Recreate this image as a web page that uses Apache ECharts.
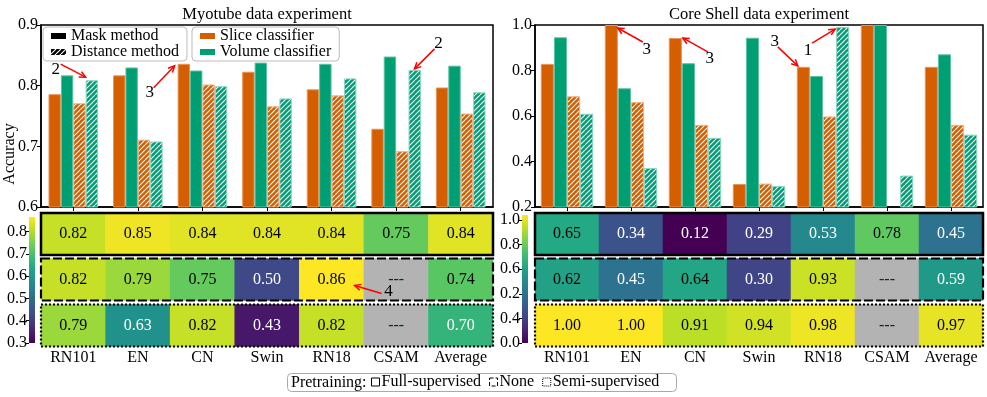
<!DOCTYPE html>
<html><head><meta charset="utf-8">
<script src="https://cdn.jsdelivr.net/npm/echarts@6/dist/echarts.min.js"></script>
<style>html,body{margin:0;padding:0;background:#fff}#c{width:987px;height:397px}</style>
</head><body><div id="c"></div>
<script>
// ---------------- DATA ----------------
const categories = ['RN101','EN','CN','Swin','RN18','CSAM','Average'];
// Myotube data experiment (bar chart)
const myoSliceMask   = [0.786,0.817,0.836,0.823,0.794,0.729,0.797];
const myoVolumeMask  = [0.817,0.830,0.825,0.838,0.836,0.848,0.833];
const myoSliceDist   = [0.771,0.711,0.802,0.766,0.784,0.692,0.754];
const myoVolumeDist  = [0.809,0.708,0.799,0.779,0.812,0.826,0.789];
// Core Shell data experiment (bar chart)
const coreSliceMask  = [0.829,1.000,0.943,0.301,0.816,1.000,0.816];
const coreVolumeMask = [0.946,0.722,0.832,0.944,0.776,1.000,0.871];
const coreSliceDist  = [0.687,0.661,0.561,0.303,0.598,null,0.561];
const coreVolumeDist = [0.610,0.371,0.504,0.292,0.991,0.338,0.518];
// Heatmap rows (pretraining)
const myoHeatFull  = [0.82,0.85,0.84,0.84,0.84,0.75,0.84];
const myoHeatNone  = [0.82,0.79,0.75,0.50,0.86,null,0.74];
const myoHeatSemi  = [0.79,0.63,0.82,0.43,0.82,null,0.70];
const coreHeatFull = [0.65,0.34,0.12,0.29,0.53,0.78,0.45];
const coreHeatNone = [0.62,0.45,0.64,0.30,0.93,null,0.59];
const coreHeatSemi = [1.00,1.00,0.91,0.94,0.98,null,0.97];
// colour ranges of the two heatmaps
const myoColorRange  = [0.40, 0.86];
const coreColorRange = [0.12, 1.00];
// Tick labels
const myoCbTicks   = [0.3,0.4,0.5,0.6,0.7,0.8];
const myoCbLabels  = ['0.3','0.4','0.5','0.6','0.7','0.8'];
const coreCbTicks  = [0.0,0.2,0.4,0.6,0.8,1.0];
const coreCbLabels = ['0.0','0.4','0.2','0.6','0.8','1.0'];
const pretrainings = ['Full-supervised','None','Semi-supervised'];

// ---------------- STYLE / LAYOUT ----------------
const FONT = '"Liberation Serif","Times New Roman",serif';
const ORANGE = '#d55e00', GREEN = '#009e73';
const LX = 41, LW = 452, RX = 535, RW = 448;
const BAR_TOP = 25, BAR_H = 182;
const ROW_TOP = [213, 258.5, 304.5], ROW_H = 42;
const BW_L = 12.4, BW_R = 13.1;

const VIR = ['#440154','#482475','#414487','#355f8d','#2a788e','#21918c','#22a884','#44bf70','#7ad151','#bddf26','#fde725'];
function hex2rgb(h){return [1,3,5].map(i=>parseInt(h.substr(i,2),16));}
function viridis(t){
  t = Math.max(0, Math.min(1, t));
  const p = t*10, i = Math.min(9, Math.floor(p)), f = p - i;
  const a = hex2rgb(VIR[i]), b = hex2rgb(VIR[i+1]);
  return 'rgb(' + a.map((x,k)=>Math.round(x+(b[k]-x)*f)).join(',') + ')';
}
function hatch(bg, fg){
  const s = 5, c = document.createElement('canvas');
  c.width = s; c.height = s;
  const ctx = c.getContext('2d');
  ctx.fillStyle = bg; ctx.fillRect(0,0,s,s);
  ctx.strokeStyle = fg; ctx.lineWidth = 1.1;
  [-s,0,s].forEach(ox=>{
    ctx.beginPath(); ctx.moveTo(ox, s); ctx.lineTo(ox+s, 0); ctx.stroke();
  });
  return {image: c, repeat: 'repeat'};
}
const hatchOrange = hatch(ORANGE, '#ffffff');
const hatchGreen = hatch(GREEN, '#ffffff');
const hatchBlack = hatch('#000000', '#ffffff');

function heatData(vals, range, whiteBelow){
  const lo = range[0], hi = range[1];
  return vals.map((v,i)=> v==null
    ? {value:[i,0,0], itemStyle:{color:'#b3b3b3'}, label:{formatter:'---', color:'#222'}}
    : {value:[i,0,v], itemStyle:{color:viridis((v-lo)/(hi-lo))}, label:{color: v < whiteBelow ? '#ffffff' : '#000000'}});
}

const grids = [], xAxes = [], yAxes = [], series = [];
function addGrid(g){ g.outerBoundsMode = 'none'; grids.push(g); return grids.length-1; }

const barAxisCommon = (gi) => ({
  gridIndex: gi, type:'category', data: categories,
  axisLabel:{show:false},
  axisTick:{show:true, alignWithLabel:true, length:4, lineStyle:{color:'#000', width:1}},
  axisLine:{lineStyle:{color:'#000', width:1.5}}
});
const yBarCommon = (gi, min, max, interval) => ({
  gridIndex: gi, type:'value', min, max, interval,
  axisLine:{show:true, lineStyle:{color:'#000', width:1.5}},
  axisTick:{show:true, length:4, lineStyle:{color:'#000'}},
  splitLine:{show:false},
  axisLabel:{color:'#000', fontFamily:FONT, fontSize:16, margin:3, formatter:v=>v.toFixed(1)}
});
const gBarL = addGrid({left:LX, top:BAR_TOP, width:LW, height:BAR_H, show:true, borderColor:'#000', borderWidth:1.5});
xAxes.push(barAxisCommon(gBarL)); yAxes.push(yBarCommon(gBarL, 0.6, 0.9, 0.1));
const gBarR = addGrid({left:RX, top:BAR_TOP, width:RW, height:BAR_H, show:true, borderColor:'#000', borderWidth:1.5});
xAxes.push(barAxisCommon(gBarR)); yAxes.push(yBarCommon(gBarR, 0.2, 1.0, 0.2));

function bar(name, data, gi, color, border, bw){
  return {type:'bar', name, data, xAxisIndex:gi, yAxisIndex:gi, barWidth:bw, barGap:'0%',
    itemStyle:{color, borderColor:border, borderWidth:1}, emphasis:{disabled:true}, silent:true};
}
series.push(bar('Slice classifier', myoSliceMask, gBarL, ORANGE, '#e9935a', BW_L));
series.push(bar('Volume classifier', myoVolumeMask, gBarL, GREEN, '#5cc2a5', BW_L));
series.push(bar('Slice classifier (distance)', myoSliceDist, gBarL, hatchOrange, '#f2b188', BW_L));
series.push(bar('Volume classifier (distance)', myoVolumeDist, gBarL, hatchGreen, '#8ad6c0', BW_L));
series.push(bar('Slice classifier', coreSliceMask, gBarR, ORANGE, '#e9935a', BW_R));
series.push(bar('Volume classifier', coreVolumeMask, gBarR, GREEN, '#5cc2a5', BW_R));
series.push(bar('Slice classifier (distance)', coreSliceDist, gBarR, hatchOrange, '#f2b188', BW_R));
series.push(bar('Volume classifier (distance)', coreVolumeDist, gBarR, hatchGreen, '#8ad6c0', BW_R));

const heatGridIdx = {L:[], R:[]};
function addHeat(side, row, vals, range, whiteBelow){
  const x = side==='L' ? LX : RX, w = side==='L' ? LW : RW;
  const gi = addGrid({left:x, top:ROW_TOP[row], width:w, height:ROW_H});
  heatGridIdx[side].push(gi);
  const bottom = row === 2;
  xAxes.push({gridIndex:gi, type:'category', data:categories, show:bottom,
    axisLine:{show:false}, axisTick:{show:false}, splitLine:{show:false},
    axisLabel:{interval:0, hideOverlap:false, color:'#000', fontFamily:FONT, fontSize:16, margin:3}});
  yAxes.push({gridIndex:gi, type:'category', data:[''], show:false});
  series.push({type:'heatmap', name:'heat'+side+row, xAxisIndex:gi, yAxisIndex:gi,
    data: heatData(vals, range, whiteBelow), silent:true, emphasis:{disabled:true},
    label:{show:true, fontFamily:FONT, fontSize:16, formatter:p=>p.value[2].toFixed(2)}});
}
addHeat('L',0,myoHeatFull,myoColorRange,0.72);
addHeat('L',1,myoHeatNone,myoColorRange,0.72);
addHeat('L',2,myoHeatSemi,myoColorRange,0.72);
addHeat('R',0,coreHeatFull,coreColorRange,0.6);
addHeat('R',1,coreHeatNone,coreColorRange,0.6);
addHeat('R',2,coreHeatSemi,coreColorRange,0.6);

const gradStops = VIR.map((c,i)=>({offset:i/10, color:VIR[10-i]}));
function addColorbar(left, top, height, min, max, ticks, labels){
  const gi = addGrid({left, top, width:6, height});
  xAxes.push({gridIndex:gi, type:'category', data:[''], show:false});
  yAxes.push({gridIndex:gi, type:'value', min, max,
    axisLine:{show:false}, splitLine:{show:false},
    axisTick:{show:true, length:3, customValues:ticks, lineStyle:{color:'#000'}},
    axisLabel:{customValues:ticks, color:'#000', fontFamily:FONT, fontSize:16, margin:2,
      formatter:(v)=>{let b=0; ticks.forEach((t,i)=>{if(Math.abs(t-v)<Math.abs(ticks[b]-v)) b=i;}); return labels[b];}}});
  series.push({type:'bar', name:'cb'+gi, xAxisIndex:gi, yAxisIndex:gi, data:[max], barWidth:'100%', silent:true,
    itemStyle:{color:new echarts.graphic.LinearGradient(0,0,0,1,gradStops)}});
}
addColorbar(29, 217, 126, 0.3, 0.865, myoCbTicks, myoCbLabels);
addColorbar(522, 215, 128, 0.0, 1.04, coreCbTicks, coreCbLabels);

['Mask method','Distance method'].concat(pretrainings).forEach(n=>{
  series.push({type:'line', name:n, data:[], xAxisIndex:0, yAxisIndex:0});
});

const legendText = {fontFamily:FONT, fontSize:16, color:'#000', lineHeight:15};
const legendBox = {orient:'vertical', itemGap:0, itemWidth:15, itemHeight:6, padding:[1,8,1,8],
  borderColor:'#bbbbbb', borderWidth:1, borderRadius:4, selectedMode:false, textStyle:legendText};

const option = {
  animation:false,
  backgroundColor:'#ffffff',
  title:[
    {text:'Myotube data experiment', left:LX+LW/2, top:6, textAlign:'center', padding:0,
     textStyle:{fontFamily:FONT, fontSize:16.5, fontWeight:'normal', color:'#000'}},
    {text:'Core Shell data experiment', left:RX+RW/2, top:6, textAlign:'center', padding:0,
     textStyle:{fontFamily:FONT, fontSize:16.5, fontWeight:'normal', color:'#000'}},
    {text:'Pretraining:', left:287, top:373, padding:[1,310,1,4], borderColor:'#aaaaaa', borderWidth:1, borderRadius:4,
     textStyle:{fontFamily:FONT, fontSize:16, fontWeight:'normal', color:'#000', lineHeight:17}}
  ],
  legend:[
    Object.assign({}, legendBox, {left:43, top:27, data:[
      {name:'Mask method', icon:'rect', itemStyle:{color:'#000', borderWidth:0}},
      {name:'Distance method', icon:'rect', itemStyle:{color:hatchBlack, borderWidth:0}}
    ]}),
    Object.assign({}, legendBox, {left:192, top:27, data:[
      {name:'Slice classifier', icon:'rect', itemStyle:{color:ORANGE, borderWidth:0}},
      {name:'Volume classifier', icon:'rect', itemStyle:{color:GREEN, borderWidth:0}}
    ]}),
    {left:371, top:374, orient:'horizontal', itemGap:8, itemWidth:8, itemHeight:8, padding:0, selectedMode:false,
     textStyle:{fontFamily:FONT, fontSize:16, color:'#000', padding:[0,0,0,-3]},
     data: pretrainings.map((n,i)=>({name:n, icon:'rect',
       itemStyle:{color:'rgba(0,0,0,0)', borderColor:'#000', borderWidth:1, borderType:['solid','dashed','dotted'][i]}}))}
  ],
  grid: grids, xAxis: xAxes, yAxis: yAxes, series
};

const chart = echarts.init(document.getElementById('c'), null, {renderer:'canvas'});
chart.setOption(option);

function arrow(tip, tail, textPos, label){
  const ang = Math.atan2(tip[1]-tail[1], tip[0]-tail[0]);
  const L = 7, a = 0.45;
  const p1 = [tip[0]-L*Math.cos(ang-a), tip[1]-L*Math.sin(ang-a)];
  const p2 = [tip[0]-L*Math.cos(ang+a), tip[1]-L*Math.sin(ang+a)];
  return [
    {type:'line', silent:true, z:20, shape:{x1:tail[0], y1:tail[1], x2:tip[0], y2:tip[1]}, style:{stroke:'#ff0000', lineWidth:1.5}},
    {type:'polyline', silent:true, z:20, shape:{points:[p1, tip, p2]}, style:{stroke:'#ff0000', lineWidth:1.5, fill:null}},
    {type:'text', silent:true, z:20, x:textPos[0], y:textPos[1], style:{text:label, fontFamily:FONT, fontSize:17, fill:'#000', align:'center', verticalAlign:'middle'}}
  ];
}
const annots = [
  {g:gBarL, cat:0, k:3, val:myoVolumeDist[0], bw:BW_L, tip:[0,-3], tail:[-25,-16], text:[-30,-11], label:'2'},
  {g:gBarL, cat:2, k:0, val:myoSliceMask[2], bw:BW_L, tip:[-3,2], tail:[-24,24], text:[-28,29], label:'3'},
  {g:gBarL, cat:5, k:3, val:myoVolumeDist[5], bw:BW_L, tip:[6,-1], tail:[26,-21], text:[30,-26], label:'2'},
  {g:gBarR, cat:1, k:0, val:coreSliceMask[1], bw:BW_R, tip:[13,3], tail:[38,17], text:[42,25], label:'3'},
  {g:gBarR, cat:2, k:0, val:coreSliceMask[2], bw:BW_R, tip:[14,0], tail:[39,14], text:[41,21], label:'3'},
  {g:gBarR, cat:4, k:0, val:coreSliceMask[4], bw:BW_R, tip:[1,-1], tail:[-19,-20], text:[-22,-25], label:'3'},
  {g:gBarR, cat:4, k:3, val:coreVolumeDist[4], bw:BW_R, tip:[-1,2], tail:[-24,16], text:[-28,23], label:'1'}
];
const gfx = [];
annots.forEach(a=>{
  const p = chart.convertToPixel({gridIndex:a.g}, [a.cat, a.val]);
  const ax = p[0] + (a.k-2)*a.bw, ay = p[1];
  gfx.push(...arrow([ax+a.tip[0], ay+a.tip[1]], [ax+a.tail[0], ay+a.tail[1]], [ax+a.text[0], ay+a.text[1]], a.label));
});
{
  const p = chart.convertToPixel({gridIndex:heatGridIdx.L[1]}, [4, 0]);
  gfx.push(...arrow([p[0]+23, p[1]+6], [p[0]+50, p[1]+14], [p[0]+57, p[1]+12], '4'));
}
const dashes = [null, [9,3], [2,2]];
['L','R'].forEach(side=>{
  const x = side==='L' ? LX : RX, w = side==='L' ? LW : RW;
  [0,1,2].forEach(r=>{
    gfx.push({type:'rect', silent:true, z:15, shape:{x:x, y:ROW_TOP[r], width:w, height:ROW_H},
      style:{fill:null, stroke:'#000', lineWidth: r===0 ? 2.5 : 2.2, lineDash: dashes[r]}});
  });
});
gfx.push({type:'text', silent:true, x:10, y:154, rotation:Math.PI/2,
  style:{text:'Accuracy', fontFamily:FONT, fontSize:16, fill:'#000', align:'center', verticalAlign:'middle'}});
chart.setOption({graphic:{elements:gfx}});
</script>
</body></html>
